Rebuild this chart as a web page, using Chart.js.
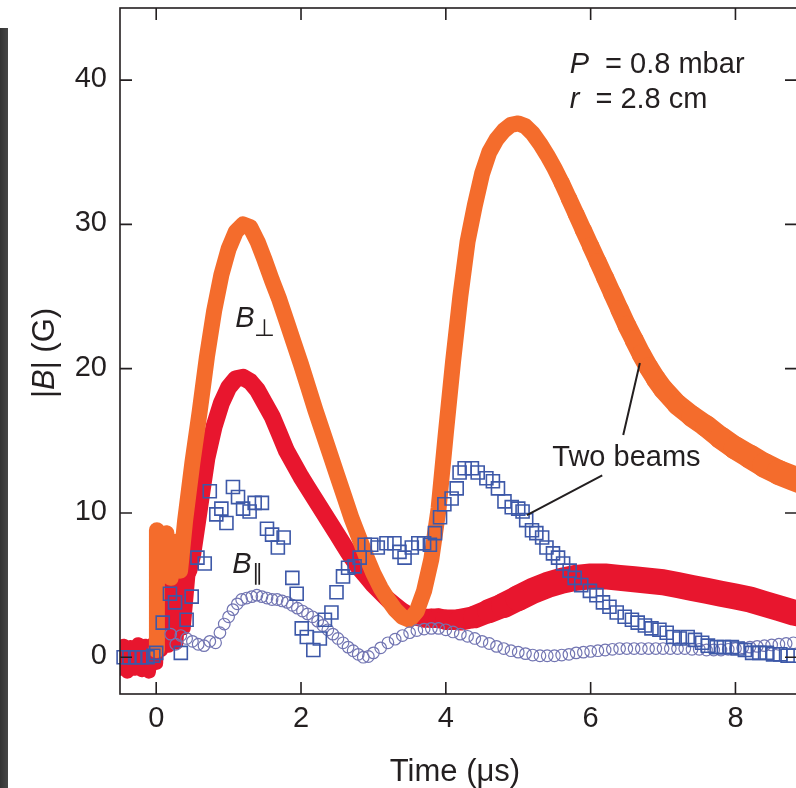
<!DOCTYPE html>
<html>
<head>
<meta charset="utf-8">
<script src="https://cdn.jsdelivr.net/npm/chart.js@4.4.1/dist/chart.umd.min.js"></script>
<style>
  html, body { margin: 0; padding: 0; background: #fff; overflow: hidden; }
  #wrap { position: relative; width: 800px; height: 788px; }
  #strip { position: absolute; left: 0; top: 28px; width: 8px; height: 760px;
           background: linear-gradient(to right, #333, #474747); }
  canvas { position: absolute; left: 0; top: 0; }
</style>
</head>
<body>
<div id="wrap">
  <canvas id="bfield" width="800" height="788" style="width:800px;height:788px"></canvas>
  <div id="strip"></div>
</div>
<script>
// two beams, B-perp (orange band)
const orangeT = [0.0, 0.01, 0.08, 0.14, 0.2, 0.27, 0.33, 0.4,
  0.5, 0.6, 0.7, 0.8, 0.9, 1.0, 1.1, 1.2, 1.3, 1.4,
  1.5, 1.6, 1.7, 1.8, 1.9, 2.0, 2.1, 2.2, 2.3, 2.4,
  2.5, 2.6, 2.7, 2.8, 2.9, 3.0, 3.1, 3.2, 3.3, 3.4,
  3.5, 3.6, 3.7, 3.8, 3.9, 4.0, 4.1, 4.2, 4.3, 4.4,
  4.5, 4.6, 4.7, 4.8, 4.9, 5.0, 5.1, 5.2, 5.3, 5.4,
  5.5, 5.6, 5.7, 5.8, 5.9, 6.0, 6.1, 6.2, 6.3, 6.4,
  6.5, 6.6, 6.7, 6.8, 6.9, 7.0,
  7.2, 7.4, 7.6, 7.8, 8.0, 8.2, 8.4, 8.6, 8.8, 8.9];
const orangeB = [0.5, 8.8, 6.0, 8.6, 5.5, 8.0, 6.0, 9.5,
  13.5, 17.0, 20.8, 24.0, 26.5, 28.3, 29.5, 30.0, 29.8, 28.8,
  27.5, 26.1, 24.8, 23.3, 21.8, 20.3, 18.7, 17.1, 15.6, 14.1,
  12.6, 11.1, 9.6, 8.3, 7.0, 5.8, 4.8, 4.0, 3.3, 2.8,
  2.6, 3.2, 4.6, 6.8, 10.3, 15.5, 20.5, 25.0, 28.8, 31.3,
  33.5, 35.0, 35.9, 36.5, 36.9, 37.0, 36.8, 36.3, 35.6, 34.8,
  33.9, 32.9, 31.8, 30.7, 29.6, 28.5, 27.4, 26.3, 25.2, 24.1,
  23.0, 22.0, 21.0, 20.1, 19.3, 18.6,
  17.5, 16.7, 16.0, 15.2, 14.5, 13.9, 13.3, 12.8, 12.4, 12.2];

// one beam, B-perp (red band)
const redT = [-0.5, -0.45, -0.4, -0.35, -0.3, -0.25, -0.2, -0.15, -0.1, -0.05, 0.0,
  0.02, 0.07, 0.12, 0.17, 0.22, 0.28, 0.33, 0.38, 0.45,
  0.5, 0.6, 0.7, 0.8, 0.9, 1.0, 1.1, 1.2, 1.3, 1.4,
  1.5, 1.6, 1.7, 1.8, 1.9, 2.0, 2.1, 2.2, 2.3, 2.4,
  2.5, 2.6, 2.7, 2.8, 2.9, 3.0, 3.1, 3.2, 3.3, 3.4,
  3.5, 3.6, 3.7, 3.8, 3.9, 4.0,
  4.2, 4.4, 4.6, 4.8, 5.0, 5.2, 5.4, 5.6, 5.8, 6.0,
  6.2, 6.4, 6.6, 6.8, 7.0, 7.2, 7.4, 7.6, 7.8, 8.0,
  8.2, 8.4, 8.6, 8.8, 8.9];
const redB = [-0.8, 0.8, -1.0, 0.7, -0.8, 0.9, -0.9, 0.8, -1.0, 0.9, -0.4,
  6.5, 0.5, 5.8, 0.8, 5.0, 1.0, 5.5, 2.0, 6.0,
  7.0, 10.4, 13.8, 16.0, 17.6, 18.7, 19.3, 19.4, 19.1, 18.5,
  17.6, 16.7, 15.5, 14.3, 13.4, 12.5, 11.7, 10.9, 10.1, 9.3,
  8.5, 7.7, 6.9, 6.2, 5.6, 5.0, 4.5, 4.0, 3.6, 3.2,
  2.9, 2.8, 2.7, 2.7, 2.7, 2.6,
  2.6, 2.8, 3.2, 3.6, 4.1, 4.6, 5.0, 5.3, 5.5, 5.6,
  5.6, 5.5, 5.4, 5.3, 5.2, 5.0, 4.8, 4.6, 4.4, 4.2,
  4.0, 3.7, 3.4, 3.1, 3.0];

// two beams, B-parallel (squares)
const squareT = [-0.45, -0.37, -0.29, -0.2, -0.12, -0.04, 0.0,
  0.09, 0.19, 0.26, 0.34, 0.42, 0.49, 0.57, 0.67,
  0.74, 0.83, 0.9, 0.97, 1.06, 1.13, 1.2, 1.29, 1.36,
  1.46, 1.53, 1.6, 1.68, 1.76, 1.88, 1.94, 2.01, 2.08, 2.17,
  2.26, 2.33, 2.42, 2.49, 2.58, 2.65, 2.74, 2.81, 2.88, 2.97,
  3.06, 3.18, 3.29, 3.36, 3.43, 3.53, 3.62, 3.7, 3.78, 3.85,
  3.92, 3.98, 4.08, 4.15, 4.19, 4.26, 4.36, 4.44, 4.56, 4.65,
  4.72, 4.81, 4.91, 5.0, 5.06, 5.11, 5.19, 5.25, 5.33, 5.39,
  5.48, 5.55, 5.62, 5.71, 5.78, 5.87, 5.99, 6.08, 6.17, 6.26,
  6.36, 6.47, 6.57, 6.65, 6.75, 6.84, 6.95, 7.05, 7.14, 7.23,
  7.34, 7.44, 7.54, 7.62, 7.74, 7.84, 7.95, 8.03, 8.13, 8.23,
  8.33, 8.43, 8.52, 8.62, 8.72, 8.8];
const squareB = [0, 0, 0, 0, 0, 0.1, 0.3,
  2.4, 4.4, 3.8, 0.3, 2.6, 4.2, 6.9, 6.5,
  11.5, 9.9, 10.3, 9.3, 11.8, 11.1, 10.3, 10.1, 10.7,
  10.7, 8.9, 8.5, 7.6, 8.3, 5.5, 4.4, 2.0, 1.4, 0.5,
  1.3, 2.6, 3.1, 4.5, 5.6, 6.2, 6.3, 6.9, 7.8, 7.8,
  7.6, 7.9, 7.9, 7.3, 6.9, 7.6, 7.9, 7.9, 7.8, 8.6,
  9.7, 10.6, 11.0, 11.7, 12.8, 13.1, 13.1, 12.8, 12.4, 12.2,
  11.7, 10.8, 10.4, 10.3, 10.1, 9.5, 8.8, 8.6, 8.3, 7.6,
  7.2, 6.9, 6.5, 6.0, 5.5, 5.0, 4.6, 4.3, 3.8, 3.5,
  3.1, 2.8, 2.6, 2.4, 2.2, 2.0, 1.9, 1.7, 1.4, 1.3,
  1.4, 1.2, 1.0, 0.8, 0.7, 0.7, 0.7, 0.6, 0.5, 0.3,
  0.3, 0.3, 0.2, 0.2, 0.1, 0.1];

// one beam, B-parallel (circles)
const circleT = [0.2, 0.27, 0.34, 0.42, 0.5, 0.58, 0.66, 0.74, 0.82, 0.88,
  0.94, 1.0, 1.06, 1.12, 1.18, 1.25, 1.32, 1.39, 1.46, 1.53,
  1.6, 1.67, 1.74, 1.81, 1.88, 1.95, 2.02, 2.09, 2.16, 2.23,
  2.3, 2.37, 2.44, 2.51, 2.58, 2.65, 2.72, 2.79, 2.86, 2.93,
  3.0, 3.1, 3.2, 3.3, 3.4, 3.5, 3.6, 3.7, 3.8, 3.9,
  4.0, 4.1, 4.2, 4.3, 4.4, 4.5, 4.6, 4.7, 4.8, 4.9,
  5.0, 5.1, 5.2, 5.3, 5.4, 5.5, 5.6, 5.7, 5.8, 5.9,
  6.0, 6.1, 6.2, 6.3, 6.4, 6.5, 6.6, 6.7, 6.8, 6.9,
  7.0, 7.1, 7.2, 7.3, 7.4, 7.5, 7.6, 7.7, 7.8, 7.9,
  8.0, 8.1, 8.2, 8.3, 8.4, 8.5, 8.6, 8.7, 8.8];
const circleB = [1.6, 0.9, 1.5, 1.3, 1.1, 0.9, 0.8, 1.1, 1.0, 1.7,
  2.3, 2.8, 3.3, 3.7, 4.0, 4.1, 4.2, 4.3, 4.2, 4.1,
  4.0, 4.0, 3.9, 3.8, 3.6, 3.4, 3.2, 3.0, 2.8, 2.5,
  2.2, 1.9, 1.6, 1.3, 1.0, 0.7, 0.45, 0.2, 0.0, 0.05,
  0.3, 0.65, 1.0, 1.25, 1.5, 1.7, 1.85, 1.95, 2.0, 2.0,
  1.9, 1.75, 1.6, 1.45, 1.3, 1.1, 0.95, 0.75, 0.6, 0.45,
  0.35, 0.25, 0.15, 0.1, 0.1, 0.1, 0.15, 0.2, 0.3, 0.35,
  0.4, 0.45, 0.5, 0.55, 0.6, 0.6, 0.6, 0.6, 0.6, 0.6,
  0.6, 0.6, 0.6, 0.6, 0.55, 0.55, 0.5, 0.5, 0.5, 0.55,
  0.6, 0.65, 0.7, 0.75, 0.8, 0.85, 0.9, 0.95, 1.0];

const xTicks = [0, 2, 4, 6, 8];
const yTicks = [0, 10, 20, 30, 40];

const FONT = '"Liberation Sans", Arial, Helvetica, sans-serif';
const INK = '#231f20';
const FS = 29;

const pts = (ts, bs) => ts.map((t, i) => ({ x: t, y: bs[i] }));

// write a run of text pieces: [text, italic, size, dy]
function rich(ctx, x, y, parts) {
  for (const [txt, it, size, dy] of parts) {
    ctx.font = (it ? 'italic ' : '') + size + 'px ' + FONT;
    ctx.fillText(txt, x, y + (dy || 0));
    x += ctx.measureText(txt).width;
  }
}
function richWidth(ctx, parts) {
  let w = 0;
  for (const [txt, it, size] of parts) {
    ctx.font = (it ? 'italic ' : '') + size + 'px ' + FONT;
    w += ctx.measureText(txt).width;
  }
  return w;
}

const decor = {
  id: 'decor',
  afterDatasetsDraw(chart) {
    const { ctx, chartArea: a, scales: { x, y } } = chart;
    ctx.save();
    ctx.strokeStyle = INK;
    ctx.lineWidth = 1.6;
    ctx.strokeRect(a.left, a.top, a.right - a.left, a.bottom - a.top);
    ctx.beginPath();
    xTicks.forEach(v => {
      const px = x.getPixelForValue(v);
      ctx.moveTo(px, a.bottom); ctx.lineTo(px, a.bottom - 12);
      ctx.moveTo(px, a.top); ctx.lineTo(px, a.top + 12);
    });
    yTicks.forEach(v => {
      const py = y.getPixelForValue(v);
      ctx.moveTo(a.left, py); ctx.lineTo(a.left + 12, py);
      ctx.moveTo(a.right, py); ctx.lineTo(a.right - 12, py);
    });
    ctx.stroke();

    // tick labels
    ctx.fillStyle = INK;
    ctx.font = FS + 'px ' + FONT;
    ctx.textBaseline = 'alphabetic';
    ctx.textAlign = 'center';
    xTicks.forEach(v => ctx.fillText(String(v), x.getPixelForValue(v), a.bottom + 33));
    ctx.textAlign = 'right';
    yTicks.forEach(v => ctx.fillText(String(v), a.left - 13, y.getPixelForValue(v) + 7));

    // callout lines for "Two beams"
    ctx.lineWidth = 2;
    ctx.beginPath();
    ctx.moveTo(x.getPixelForValue(6.45), y.getPixelForValue(15.4));
    ctx.lineTo(x.getPixelForValue(6.68), y.getPixelForValue(20.4));
    ctx.moveTo(x.getPixelForValue(6.16), y.getPixelForValue(12.6));
    ctx.lineTo(x.getPixelForValue(5.12), y.getPixelForValue(9.85));
    ctx.stroke();

    ctx.textAlign = 'left';
    rich(ctx, x.getPixelForValue(5.71), y.getPixelForValue(40.5),
      [['P', true, FS], ['  = 0.8 mbar', false, FS]]);
    rich(ctx, x.getPixelForValue(5.71), y.getPixelForValue(38.05),
      [['r', true, FS], ['  = 2.8 cm', false, FS]]);
    rich(ctx, x.getPixelForValue(5.47), y.getPixelForValue(13.25),
      [['Two beams', false, FS]]);
    rich(ctx, x.getPixelForValue(1.09), y.getPixelForValue(22.88),
      [['B', true, FS], ['\u22A5', false, 24, 9]]);
    rich(ctx, x.getPixelForValue(1.05), y.getPixelForValue(5.83),
      [['B', true, FS], ['\u2225', false, 22, 7]]);

    // axis titles
    const yt = [['|', false, 31], ['B', true, 31], ['| (G)', false, 31]];
    ctx.save();
    ctx.translate(54, 353);
    ctx.rotate(-Math.PI / 2);
    rich(ctx, -richWidth(ctx, yt) / 2, 0, yt);
    ctx.restore();

    ctx.textAlign = 'center';
    ctx.font = '31px ' + FONT;
    ctx.fillText('Time (\u03bcs)', 455, 781);
    ctx.restore();
  }
};

const hidden = { display: false };

new Chart(document.getElementById('bfield').getContext('2d'), {
  type: 'scatter',
  data: {
    datasets: [
      {
        label: 'Two beams B\u2225',
        data: pts(squareT, squareB),
        pointStyle: 'rect',
        pointRadius: 9.2,
        borderColor: '#3d58a8',
        backgroundColor: 'rgba(0,0,0,0)',
        borderWidth: 1.6,
        clip: false,
        order: 0,
      },
      {
        label: 'One beam B\u2225',
        data: pts(circleT, circleB),
        pointStyle: 'circle',
        pointRadius: 5.8,
        borderColor: '#7275b2',
        backgroundColor: 'rgba(0,0,0,0)',
        borderWidth: 1.2,
        clip: false,
        order: 1,
      },
      {
        label: 'Two beams B\u22A5',
        data: pts(orangeT, orangeB),
        showLine: true,
        pointRadius: 0,
        borderColor: '#f46c2c',
        borderWidth: 16,
        borderJoinStyle: 'round',
        borderCapStyle: 'round',
        segment: {
          borderWidth: c => Math.min(25, 16 + Math.max(0, c.p0.parsed.x - 5.5) * 3),
        },
        tension: 0,
        clip: 0,
        order: 2,
      },
      {
        label: 'One beam B\u22A5',
        data: pts(redT, redB),
        showLine: true,
        pointRadius: 0,
        borderColor: '#e8162e',
        borderWidth: 16,
        borderJoinStyle: 'round',
        borderCapStyle: 'round',
        segment: {
          borderWidth: c => c.p0.parsed.x < 0.45 ? 14
            : Math.min(26, 17 + Math.max(0, c.p0.parsed.x - 3.4) * 6),
        },
        tension: 0,
        clip: 0,
        order: 3,
      },
    ],
  },
  options: {
    responsive: false,
    animation: false,
    events: [],
    layout: { autoPadding: false, padding: { left: 0, top: 8, right: 3, bottom: 0 } },
    plugins: { legend: hidden, tooltip: { enabled: false } },
    scales: {
      x: {
        type: 'linear',
        min: -0.5,
        max: 8.85,
        afterFit: s => { s.height = 94; },
        grid: { display: false, drawTicks: false },
        border: hidden,
        ticks: { display: false, padding: 0 },
      },
      y: {
        type: 'linear',
        min: -2.55,
        max: 45,
        afterFit: s => { s.width = 120; },
        grid: { display: false, drawTicks: false },
        border: hidden,
        ticks: { display: false, padding: 0 },
      },
    },
  },
  plugins: [decor],
});
</script>
</body>
</html>
